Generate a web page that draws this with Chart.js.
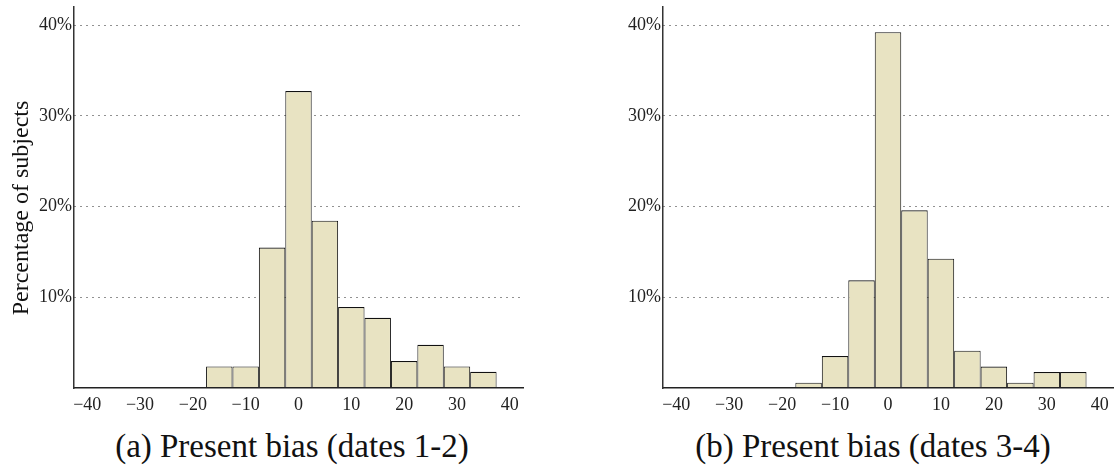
<!DOCTYPE html>
<html>
<head>
<meta charset="utf-8">
<script src="https://cdn.jsdelivr.net/npm/chart.js@4.4.1/dist/chart.umd.min.js"></script>
<style>
  html, body { margin: 0; padding: 0; background: #ffffff; }
  body { width: 1115px; height: 474px; position: relative; overflow: hidden; font-family: "Liberation Serif", serif; color: #111; }
  canvas { position: absolute; top: 0; }
  #c1 { left: 0; }
  #c2 { left: 557px; }
  .cap { position: absolute; top: 430px; width: 500px; height: 33px; line-height: 33px; font-size: 33px; text-align: center; white-space: nowrap; }
  #ytitle { position: absolute; left: -130px; top: 192.5px; width: 300px; height: 30px; line-height: 30px; font-size: 24px; text-align: center; transform: rotate(-90deg); transform-origin: 50% 50%; white-space: nowrap; }
  .pre { position: absolute; left: -999px; font-family: "Liberation Serif"; font-size: 18px; }
</style>
</head>
<body>
<span class="pre">0123456789−%</span>
<canvas id="c1" width="557" height="420"></canvas>
<canvas id="c2" width="558" height="420"></canvas>
<div id="ytitle">Percentage of subjects</div>
<div class="cap" id="capA" style="left:42px">(a) Present bias (dates 1-2)</div>
<div class="cap" id="capB" style="left:623px">(b) Present bias (dates 3-4)</div>
<script>
// ---- data ----
const binCenters = [-15, -10, -5, 0, 5, 10, 15, 20, 25, 30, 35];
const valuesDates12 = [2.38, 2.38, 15.48, 32.74, 18.45, 8.93, 7.74, 2.98, 4.76, 2.38, 1.79];
const valuesDates34 = [0.59, 3.53, 11.87, 39.23, 19.60, 14.26, 4.12, 2.36, 0.59, 1.76, 1.76];
const xTickValues = [-40, -30, -20, -10, 0, 10, 20, 30, 40];
const yTickValues = [10, 20, 30, 40];
const xRange = [-42.5, 42.5];
const yRange = [0, 42];

const FONT = "'Liberation Serif', serif";
const BAR_FILL = 'rgb(232,227,194)';
const BAR_EDGE = '#111111';

function makeChart(id, values, yAxisWidth, padRight) {
  const ctx = document.getElementById(id).getContext('2d');
  return new Chart(ctx, {
    type: 'bar',
    data: {
      datasets: [{
        data: binCenters.map((c, i) => ({ x: c, y: values[i] })),
        backgroundColor: BAR_FILL,
        borderColor: BAR_EDGE,
        borderWidth: { top: 1.2, left: 1, right: 1, bottom: 0 },
        borderSkipped: 'start',
        barPercentage: 1.0,
        categoryPercentage: 1.0,
        inflateAmount: 0
      }]
    },
    options: {
      responsive: false,
      devicePixelRatio: 1,
      animation: false,
      layout: { padding: { top: 7, left: 0, right: padRight, bottom: 0 } },
      plugins: { legend: { display: false }, tooltip: { enabled: false }, title: { display: false } },
      scales: {
        x: {
          type: 'linear',
          min: xRange[0],
          max: xRange[1],
          offset: false,
          afterBuildTicks: (s) => { s.ticks = xTickValues.map(v => ({ value: v })); },
          afterFit: (s) => { s.height = 32; s.paddingLeft = 0; s.paddingRight = 0; },
          grid: { display: false, drawTicks: false, offset: false },
          border: { display: true, color: '#222222', width: 1.5, z: 1 },
          ticks: {
            padding: 6,
            maxRotation: 0,
            autoSkip: false,
            color: '#222222',
            font: { family: FONT, size: 18 },
            callback: (v) => (v < 0 ? '\u2212' + Math.abs(v) : String(v))
          }
        },
        y: {
          type: 'linear',
          min: yRange[0],
          max: yRange[1],
          afterBuildTicks: (s) => { s.ticks = yTickValues.map(v => ({ value: v })); },
          afterFit: (s) => { s.width = yAxisWidth; s.paddingTop = 0; s.paddingBottom = 0; },
          grid: { display: true, drawTicks: false, color: '#222222', lineWidth: 1 },
          border: { display: true, color: '#333333', width: 1.5, dash: [1, 5], z: 1 },
          ticks: {
            padding: 2,
            color: '#222222',
            font: { family: FONT, size: 18 },
            callback: (v) => v + '%'
          }
        }
      }
    }
  });
}

function build() {
  makeChart('c1', valuesDates12, 74, 34);
  makeChart('c2', valuesDates34, 106, 2);
}
if (document.fonts && document.fonts.load) {
  document.fonts.load("18px 'Liberation Serif'").then(build, build);
} else {
  build();
}
</script>
</body>
</html>
